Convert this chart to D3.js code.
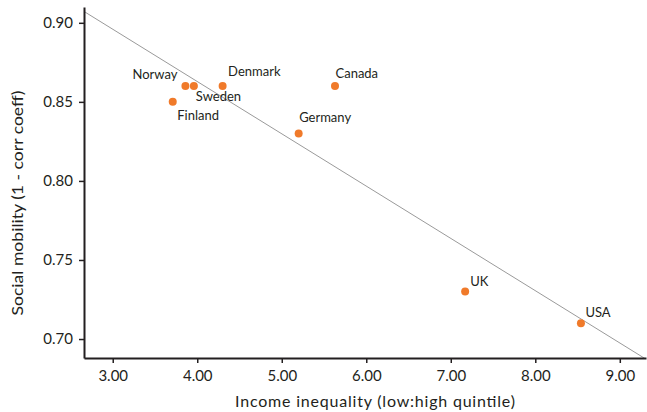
<!DOCTYPE html>
<html>
<head>
<meta charset="utf-8">
<script src="https://cdn.jsdelivr.net/npm/d3@7"></script>
<style>
  html, body { margin: 0; padding: 0; background: #fff; }
  svg { display: block; }
  text { font-family: Lato, "Open Sans", sans-serif; fill: #231f20; }
</style>
</head>
<body>
<svg id="chart" width="647" height="412"></svg>
<script>
// ---- data ----
const countries = ["Norway", "Sweden", "Denmark", "Finland", "Canada", "Germany", "UK", "USA"];
const incomeInequality = [3.86, 3.96, 4.30, 3.71, 5.63, 5.20, 7.17, 8.54];
const socialMobility = [0.86, 0.86, 0.86, 0.85, 0.86, 0.83, 0.73, 0.71];
const xTicks = [3, 4, 5, 6, 7, 8, 9];
const yTicks = [0.70, 0.75, 0.80, 0.85, 0.90];
const xTitle = "Income inequality (low:high quintile)";
const yTitle = "Social mobility (1 - corr coeff)";

(function () {
// ---- layout ----
const plotL = 84, plotR = 646, plotT = 7, plotB = 358;
const svg = d3.select("#chart");

const x = d3.scaleLinear().domain([2.66, 9.31]).range([plotL, plotR]);
const y = d3.scaleLinear().domain([0.688, 0.910]).range([plotB, plotT]);

// label placement: [dx, dy, anchor]
const labelPlacement = {
  Norway: [-8, -7, "end"],
  Sweden: [2, 15, "start"],
  Denmark: [5.5, -10, "start"],
  Finland: [4.5, 18, "start"],
  Canada: [0.5, -8.5, "start"],
  Germany: [0.5, -11, "start"],
  UK: [5, -5.5, "start"],
  USA: [4.5, -6.5, "start"]
};

// regression line (least squares from data)
const n = countries.length;
const mx = d3.mean(incomeInequality), my = d3.mean(socialMobility);
let sxy = 0, sxx = 0;
for (let i = 0; i < n; i++) {
  sxy += (incomeInequality[i] - mx) * (socialMobility[i] - my);
  sxx += (incomeInequality[i] - mx) ** 2;
}
const slope = sxy / sxx, intercept = my - slope * mx;

svg.append("clipPath").attr("id", "clip")
  .append("rect").attr("x", plotL).attr("y", plotT).attr("width", plotR - plotL).attr("height", plotB - plotT);

const xd = x.domain();
svg.append("line")
  .attr("clip-path", "url(#clip)")
  .attr("x1", x(xd[0])).attr("y1", y(intercept + slope * xd[0]))
  .attr("x2", x(xd[1])).attr("y2", y(intercept + slope * xd[1]))
  .attr("stroke", "#9a9a9a").attr("stroke-width", 1);

// axes
const xAxis = svg.append("g").attr("transform", `translate(0,${plotB})`)
  .call(d3.axisBottom(x).tickValues(xTicks).tickFormat(d3.format(".2f")).tickSize(5).tickSizeOuter(0).tickPadding(7));
const yAxis = svg.append("g").attr("transform", `translate(${plotL},0)`)
  .call(d3.axisLeft(y).tickValues(yTicks).tickFormat(d3.format(".2f")).tickSize(5).tickSizeOuter(0).tickPadding(6));

[xAxis, yAxis].forEach(g => {
  g.select(".domain").attr("stroke", "#231f20").attr("stroke-width", 2);
  g.selectAll(".tick line").attr("stroke", "#231f20").attr("stroke-width", 1.5);
  g.selectAll(".tick text").style("font-size", "15px").attr("fill", "#231f20");
});

// points
svg.append("g").selectAll("circle").data(countries).join("circle")
  .attr("cx", (d, i) => x(incomeInequality[i]))
  .attr("cy", (d, i) => y(socialMobility[i]))
  .attr("r", 4)
  .attr("fill", "#f07a2a");

// labels
svg.append("g").selectAll("text").data(countries).join("text")
  .attr("x", (d, i) => x(incomeInequality[i]) + labelPlacement[d][0])
  .attr("y", (d, i) => y(socialMobility[i]) + labelPlacement[d][1])
  .attr("text-anchor", d => labelPlacement[d][2])
  .style("font-size", "13px")
  .text(d => d);

// axis titles
svg.append("text").attr("x", 375).attr("y", 407).attr("text-anchor", "middle")
  .style("font-size", "16px")
  .attr("textLength", 280).attr("lengthAdjust", "spacing")
  .text(xTitle);
svg.append("text").attr("transform", "translate(23,203) rotate(-90)").attr("text-anchor", "middle")
  .style("font-size", "15px")
  .attr("textLength", 225).attr("lengthAdjust", "spacingAndGlyphs")
  .text(yTitle);
})();
</script>
</body>
</html>
